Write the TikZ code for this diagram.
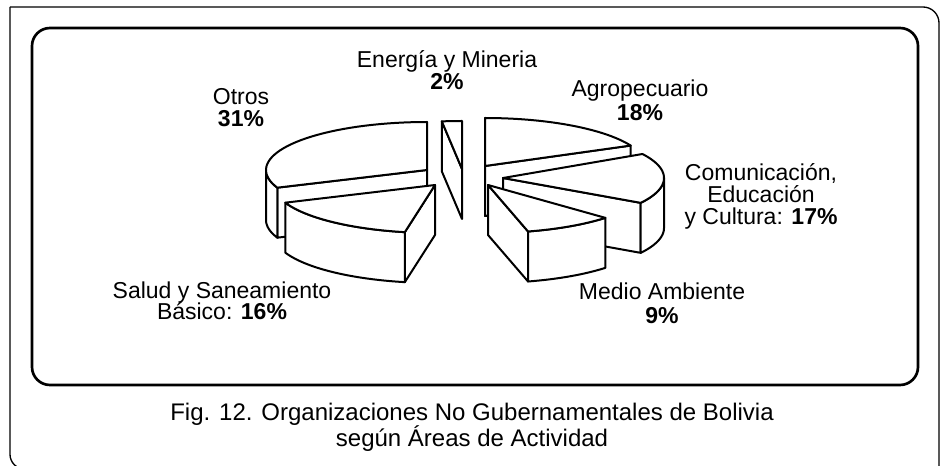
\documentclass[tikz,border=0pt]{standalone}
\usepackage{fontspec}
\setmainfont{Liberation Sans}
\newcommand\pTop[4]{\draw[pie] (#1,#2) -- plot[domain=#3:#4,samples=40] ({#1+161*cos(\x)},{#2-48*sin(\x)}) -- cycle;}
\newcommand\pSide[4]{\draw[pie] plot[domain=#3:#4,samples=30] ({#1+161*cos(\x)},{#2-48*sin(\x)}) -- plot[domain=#4:#3,samples=30] ({#1+161*cos(\x)},{#2+50-48*sin(\x)}) -- cycle;}
\newcommand\pCut[3]{\draw[pie] (#1,#2) -- ({#1+161*cos(#3)},{#2-48*sin(#3)}) -- ({#1+161*cos(#3)},{#2+50-48*sin(#3)}) -- ({#1},{#2+50}) -- cycle;}
\tikzset{
  pie/.style={draw=black, fill=white, line width=1.5pt, line join=round},
  pieline/.style={draw=black, line width=1.5pt},
  lbl/.style={font=\fontsize{17.25}{20}\selectfont, anchor=base, inner sep=0pt},
  lblb/.style={font=\fontsize{17.25}{20}\selectfont\bfseries, anchor=base, inner sep=0pt},
  captext/.style={font=\fontsize{18}{21}\selectfont, anchor=base, inner sep=0pt},
  outerframe/.style={draw=black, line width=1pt},
  innerframe/.style={draw=black, line width=2pt}
}
\begin{document}
\begin{tikzpicture}[x=0.75pt,y=-0.75pt]
\useasboundingbox (0,0) rectangle (941,466);
\fill[white] (0,0) rectangle (941,466);
% outer frame
\draw[outerframe, rounded corners=12pt] (10,7) -- (939,7) -- (939,480);
\draw[outerframe, rounded corners=11pt] (10,7) -- (10,469) -- (80,469);
% inner frame
\draw[innerframe, rounded corners=13.5pt] (32,28) rectangle (918,385);
% Agropecuario
\pCut{485}{166}{25.2}
\draw[pieline] (485,166) -- (485,216);
\pTop{485}{166}{25.2}{90}
% Otros
\draw[pieline] (427,170) -- (427,220);
\pCut{427}{170}{201.6}
\pSide{427}{170}{180}{201.6}
\pTop{427}{170}{90}{201.6}
% Energia
\pCut{462}{169}{97.2}
\pTop{462}{169}{90}{97.2}
% Comunicacion
\pCut{503}{178}{-31.2}
\pSide{503}{178}{-31.2}{0}
\pTop{503}{178}{-31.2}{30}
% Salud
\pCut{435}{185}{259.2}
\pSide{435}{185}{201.6}{259.2}
\pTop{435}{185}{201.6}{259.2}
% Medio Ambiente
\pCut{488}{185}{284.4}
\pSide{488}{185}{284.4}{316.8}
\pTop{488}{185}{284.4}{316.8}
% labels
\node[lbl] (en1) at (447,68) {Energía y Mineria};
\node[lblb] (en2) at (447,90) {2\%};
\node[lbl] (ot1) at (241,105) {Otros};
\node[lblb] (ot2) at (241,127) {31\%};
\node[lbl] (ag1) at (640,97) {Agropecuario};
\node[lblb] (ag2) at (640,121) {18\%};
\node[lbl] (co1) at (761,181) {Comunicación,};
\node[lbl] (co2) at (761,203) {Educación};
\node[lbl] (co3) at (761,225) {y Cultura: \textbf{17\%}};
\node[lbl] (me1) at (662,300) {Medio Ambiente};
\node[lblb] (me2) at (662,323) {9\%};
\node[lbl] (sa1) at (222,298) {Salud y Saneamiento};
\node[lbl] (sa2) at (222,320) {Básico: \textbf{16\%}};
% caption
\node[captext] (c1) at (472,420) {Fig. 12. Organizaciones No Gubernamentales de Bolivia};
\node[captext] (c2) at (472,446) {según Áreas de Actividad};
\end{tikzpicture}
\end{document}
